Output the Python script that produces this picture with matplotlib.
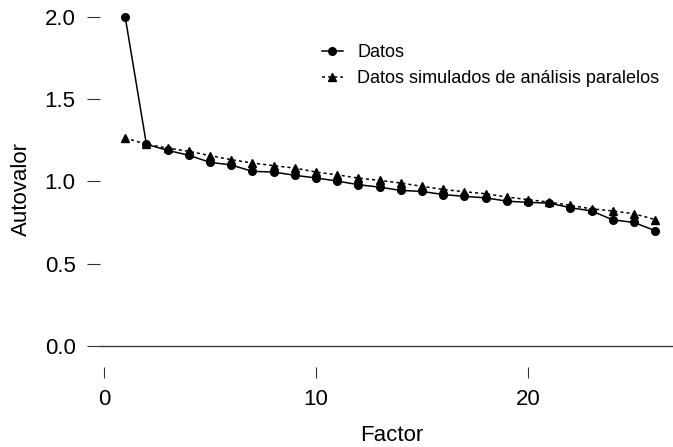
import matplotlib
matplotlib.use("Agg")
from matplotlib import pyplot as plt

# scree plot data
factors = list(range(1, 27))
datos = [2.00, 1.226, 1.189, 1.159, 1.116, 1.100, 1.061, 1.057, 1.037, 1.021,
         1.002, 0.980, 0.965, 0.945, 0.939, 0.920, 0.909, 0.900, 0.880, 0.872,
         0.868, 0.840, 0.820, 0.766, 0.750, 0.700]
simulados = [1.264, 1.226, 1.203, 1.183, 1.157, 1.132, 1.112, 1.096, 1.081, 1.057,
             1.040, 1.020, 1.006, 0.990, 0.970, 0.951, 0.937, 0.925, 0.905, 0.889,
             0.874, 0.854, 0.833, 0.820, 0.803, 0.768]
x_ticks = [0, 10, 20]
y_ticks = [0.0, 0.5, 1.0, 1.5, 2.0]

plt.rcParams["font.family"] = ["Liberation Sans", "DejaVu Sans"]

W, H = 673, 447
fig = plt.figure(figsize=(W / 100, H / 100), dpi=100)
# axes box in pixels: left 100, right 673, top 10, bottom 350
ax = fig.add_axes([100 / W, (H - 350) / H, 573 / W, 340 / H])

ax.axhline(0, color="#3a3a3a", lw=1.0, zorder=1)
ax.plot(factors, datos, "-o", color="black", lw=1.1, ms=5.5,
        label="Datos", clip_on=False, zorder=3)
ax.plot(factors, simulados, linestyle=(0, (2, 2)), marker="^", color="black",
        lw=1.1, ms=6, label="Datos simulados de análisis paralelos",
        clip_on=False, zorder=3)

ax.set_xlim(-0.189, 26.84)
ax.set_ylim(-0.026, 2.043)
ax.set_xticks(x_ticks)
ax.set_yticks(y_ticks)
ax.set_yticklabels([f"{v:.1f}" for v in y_ticks])

for s in ax.spines.values():
    s.set_visible(False)
ax.spines["bottom"].set_position(("outward", 12))

ax.tick_params(axis="x", length=8, width=0.8, color="#333333",
               labelsize=16, pad=8)
ax.tick_params(axis="y", length=9.5, width=0.8, color="#333333",
               labelsize=16, pad=8)

ax.set_xlabel("Factor", fontsize=16)
ax.set_ylabel("Autovalor", fontsize=16)
ax.xaxis.set_label_coords(0.509, -0.22)
ax.yaxis.set_label_coords(-0.118, 0.475)

leg = ax.legend(loc="upper left", bbox_to_anchor=(322 / W, 1 - 44 / H),
                bbox_transform=fig.transFigure, frameon=False, fontsize=13,
                handlelength=1.15, handletextpad=0.8, borderpad=0,
                borderaxespad=0, labelspacing=0.5)

fig.savefig("out.png", dpi=100)
